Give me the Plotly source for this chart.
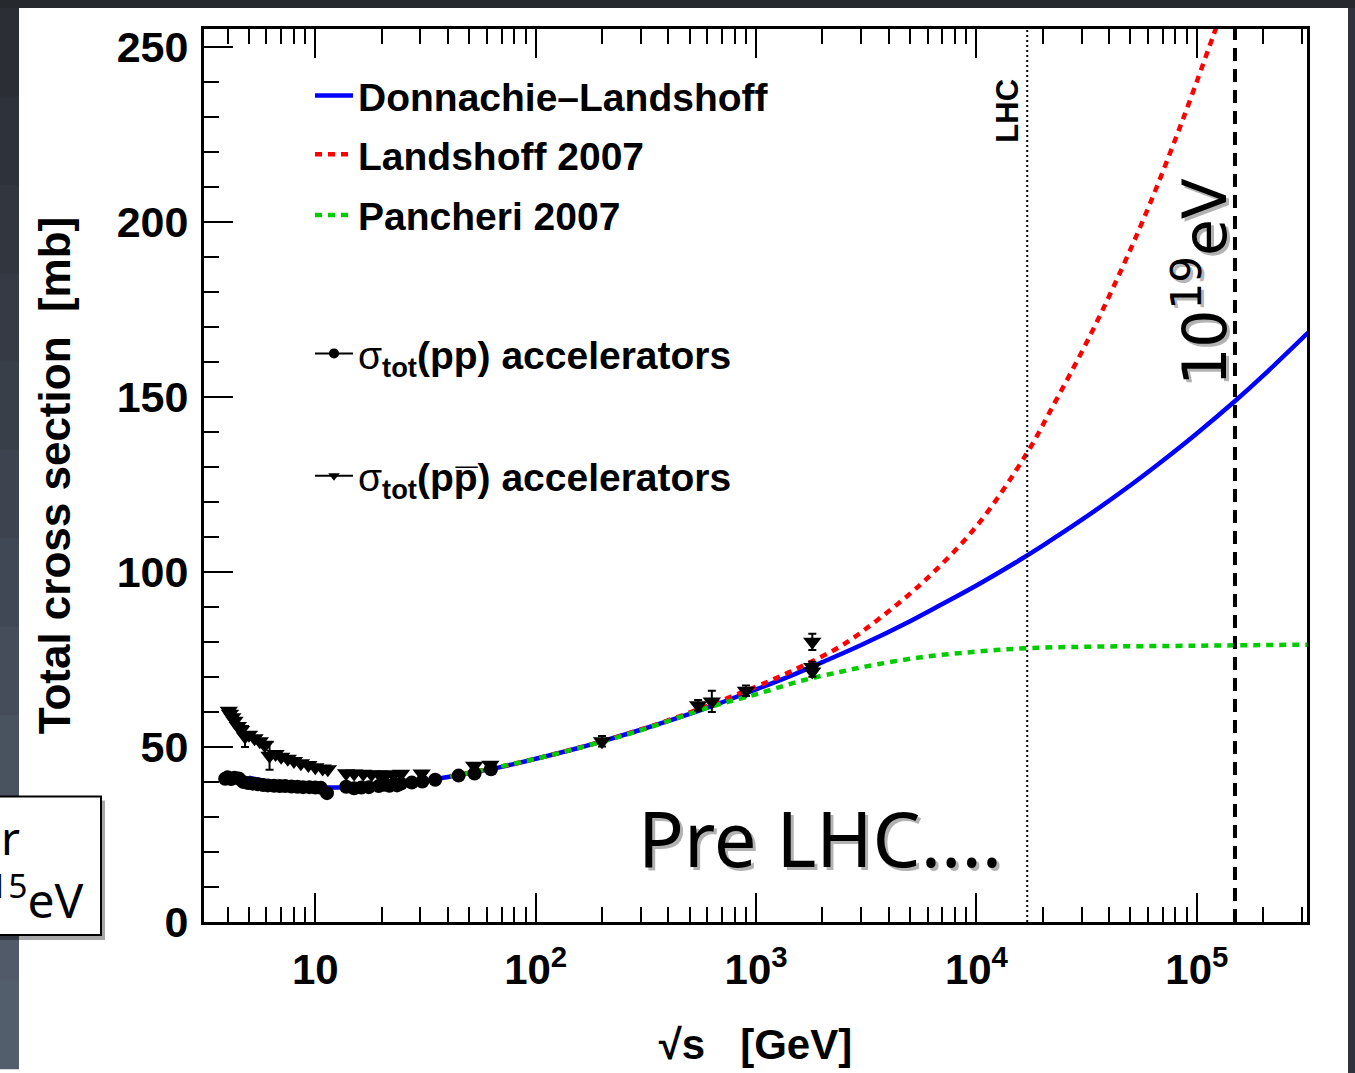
import plotly.graph_objects as go

# ---------------- data ----------------
# Donnachie-Landshoff fit
dl_sqrts = [5, 7, 10, 15, 20, 30, 50, 70, 100, 150, 200, 300, 500, 700, 1000, 1500,
            2000, 3000, 5000, 7000, 1e4, 1.5e4, 2e4, 3e4, 5e4, 7e4, 1e5, 1.5e5, 2e5, 3.2e5]
dl_sigma = [41.2, 39.4, 38.5, 38.5, 39.0, 40.2, 42.5, 44.3, 46.6, 49.4, 51.6, 54.9, 59.4, 62.7,
            66.4, 70.8, 74.2, 79.1, 85.9, 90.8, 96.1, 102.6, 107.5, 114.8, 124.7, 131.7,
            139.5, 148.9, 156.0, 168.3]

# Landshoff 2007
ls_sqrts = [41, 100, 316, 1000, 1585, 2400, 3162, 5623, 1e4, 1.7e4, 2.15e4, 3.27e4,
            4.61e4, 6.1e4, 8.6e4, 1.18e5, 1.26e5]
ls_sigma = [41.6, 46.6, 55.4, 67.2, 72.8, 78.6, 83.8, 96.6, 113.0, 134.0, 145.6, 167.3,
            187.1, 204.8, 228.8, 252.6, 257.6]

# Pancheri 2007
pa_sqrts = [41, 100, 200, 316, 617, 1000, 1585, 2400, 3162, 5623, 1e4, 1.7e4, 3.16e4, 1e5, 3.2e5]
pa_sigma = [41.5, 46.6, 51.5, 55.2, 61.4, 65.0, 68.8, 71.4, 73.0, 75.6, 77.2, 78.2, 78.6, 78.9, 79.2]

# sigma_tot(pp) accelerator data
pp_sqrts = [3.9, 4.0, 4.15, 4.3, 4.5, 4.7, 4.95, 5.2, 5.5, 5.8, 6.1, 6.5, 6.9, 7.3, 7.8, 8.3,
            8.8, 9.4, 10.0, 10.6, 11.3, 13.8, 15.0, 16.2, 17.5, 19.4, 20.5, 21.7, 23.5, 24.5,
            27.4, 30.6, 35.0, 44.7, 52.8, 62.7]
pp_sigma = [40.9, 41.3, 40.8, 41.2, 41.0, 40.0, 39.7, 39.5, 39.3, 39.1, 39.0, 38.9, 38.8, 38.8,
            38.7, 38.6, 38.5, 38.5, 38.4, 38.3, 36.8, 38.6, 38.2, 38.4, 38.5, 38.8, 39.2, 38.9,
            39.0, 39.5, 39.8, 40.1, 40.6, 41.8, 42.4, 43.6]
pp_err = [0.0] * len(pp_sqrts)

# sigma_tot(p pbar) accelerator data
pb_sqrts = [4.05, 4.1, 4.2, 4.3, 4.45, 4.6, 4.8, 5.0, 5.3, 5.6, 5.9, 6.2, 6.6, 7.0, 7.5, 8.0,
            8.6, 9.3, 10.0, 10.8, 11.4, 13.8, 15.0, 16.5, 18.0, 19.5, 21.0, 22.6, 24.5, 30.4,
            52.6, 62.3, 200, 546, 630, 900, 1800, 1800, 1800]
pb_sigma = [60.3, 59.5, 58.5, 57.5, 56.0, 54.8, 53.0, 53.5, 52.5, 51.6, 50.5, 47.5, 48.0, 47.2,
            46.6, 46.0, 45.3, 44.8, 44.2, 43.8, 43.6, 42.5, 42.4, 42.3, 42.2, 42.1, 42.2, 42.0,
            42.3, 42.4, 44.6, 44.9, 51.6, 61.9, 63.0, 66.0, 80.0, 72.8, 71.5]
pb_err = [0, 0, 0, 0, 0, 0, 3.0, 0, 0, 0, 0, 4.0, 0, 0, 0, 0, 0, 0, 0, 0, 0, 0, 0, 0, 0, 0,
          0, 0, 0, 0, 0, 0, 1.5, 1.5, 3.0, 1.5, 2.3, 1.5, 1.5]

# reference energies (vertical lines)
lhc_sqrts = 1.7e4
cr_sqrts = 1.49e5

# axes
x_tickvals = [10, 100, 1000, 10000, 100000]
x_ticktext = ["10", "10<sup>2</sup>", "10<sup>3</sup>", "10<sup>4</sup>", "10<sup>5</sup>"]
x_minor = [m * 10 ** e for e in range(0, 6) for m in range(2, 10)]
y_tickvals = [0, 50, 100, 150, 200, 250]
X_RANGE = [0.495, 5.5]
Y_TOP = 255

# ---------------- geometry helpers (decoration only) ----------------
W, H = 1355, 1073
ML, MR, MT, MB = 204, 48, 29, 147
PW, PH = W - ML - MR, H - MT - MB


def pxx(x):
    return (x - ML) / PW


def pxy(y):
    return (H - MB - y) / PH


BOLD = "Liberation Sans"

fig = go.Figure()

fig.add_trace(go.Scatter(x=dl_sqrts, y=dl_sigma, mode="lines", line=dict(color="#0000ff", width=4.5, shape="spline"),
                         name="<b>Donnachie\u2013Landshoff</b>", legend="legend"))
fig.add_trace(go.Scatter(x=ls_sqrts, y=ls_sigma, mode="lines",
                         line=dict(color="#ff0000", width=4.5, dash="7px,6px", shape="spline"),
                         name="<b>Landshoff 2007</b>", legend="legend2"))
fig.add_trace(go.Scatter(x=pa_sqrts, y=pa_sigma, mode="lines",
                         line=dict(color="#00cc00", width=4.5, dash="7px,6px", shape="spline"),
                         name="<b>Pancheri 2007</b>", legend="legend3"))

# vertical reference lines
fig.add_trace(go.Scatter(x=[lhc_sqrts, lhc_sqrts], y=[0, Y_TOP], mode="lines",
                         line=dict(color="black", width=2, dash="2px,3px"), showlegend=False))
fig.add_trace(go.Scatter(x=[cr_sqrts, cr_sqrts], y=[0, Y_TOP], mode="lines",
                         line=dict(color="black", width=4, dash="13px,8px"), showlegend=False))

# data points
fig.add_trace(go.Scatter(x=pp_sqrts, y=pp_sigma, mode="markers",
                         marker=dict(symbol="circle", size=14, color="black"),
                         error_y=dict(type="data", array=pp_err, color="black", thickness=2, width=4),
                         showlegend=False))
fig.add_trace(go.Scatter(x=pb_sqrts, y=pb_sigma, mode="markers",
                         marker=dict(symbol="triangle-down", size=16, color="black"),
                         error_y=dict(type="data", array=pb_err, color="black", thickness=2, width=4),
                         showlegend=False))

# legend entries for the data sets
fig.add_trace(go.Scatter(x=[None], y=[None], mode="lines+markers",
                         line=dict(color="black", width=2), marker=dict(symbol="circle", size=10, color="black"),
                         name="\u03c3<b><sub>tot</sub>(pp) accelerators</b>", legend="legend4"))
fig.add_trace(go.Scatter(x=[None], y=[None], mode="lines+markers",
                         line=dict(color="black", width=2), marker=dict(symbol="triangle-down", size=10, color="black"),
                         name="\u03c3<b><sub>tot</sub>(pp\u0305) accelerators</b>", legend="legend5"))

leg_common = dict(xanchor="left", yanchor="middle", bgcolor="rgba(0,0,0,0)", borderwidth=0,
                  font=dict(family=BOLD, size=39, color="black"), itemwidth=38)
legend_rows = {"legend": 96, "legend2": 155, "legend3": 216, "legend4": 355, "legend5": 478}
leg_layout = {k: dict(x=pxx(310), y=pxy(v), **leg_common) for k, v in legend_rows.items()}

# ---------------- decoration shapes (slide background) ----------------
shapes = []
shapes.append(dict(type="rect", xref="paper", yref="paper", x0=pxx(-5), x1=pxx(W + 5), y0=pxy(-5), y1=pxy(8),
                   fillcolor="#26292e", line=dict(width=0), layer="below"))
shapes.append(dict(type="rect", xref="paper", yref="paper", x0=pxx(1348), x1=pxx(W + 5), y0=pxy(H + 5), y1=pxy(8),
                   fillcolor="#30343a", line=dict(width=0), layer="below"))
strip_cols = ["#2b2f35", "#2e323a", "#31363f", "#353a44", "#393f49", "#3d444f", "#414855", "#454d5a",
              "#49525f", "#4d5664", "#505a68", "#535e6c"]
nb = len(strip_cols)
for i, c in enumerate(strip_cols):
    shapes.append(dict(type="rect", xref="paper", yref="paper", x0=pxx(-5), x1=pxx(19),
                       y0=pxy(8 + (H - 8) * (i + 1) / nb + 1), y1=pxy(8 + (H - 8) * i / nb),
                       fillcolor=c, line=dict(width=0), layer="below"))
# box at left edge with shadow
shapes.append(dict(type="rect", xref="paper", yref="paper", x0=pxx(-5), x1=pxx(105), y0=pxy(944), y1=pxy(804),
                   fillcolor="rgba(0,0,0,0.35)", line=dict(width=0), layer="below"))
shapes.append(dict(type="rect", xref="paper", yref="paper", x0=pxx(-5), x1=pxx(101), y0=pxy(939), y1=pxy(800),
                   fillcolor="white", line=dict(color="black", width=2), layer="below"))

annotations = []
# LHC label
annotations.append(dict(xref="paper", yref="paper", x=pxx(1008), y=pxy(111), xanchor="center", yanchor="middle",
                        text="<b>LHC</b>", textangle=-90,
                        showarrow=False, font=dict(family=BOLD, size=31, color="black")))
# 10^19 eV label with shadow
for dx, col in [(3, "rgba(0,0,0,0.3)"), (0, "black")]:
    annotations.append(dict(xref="paper", yref="paper", x=pxx(1201 + dx), y=pxy(283 + dx),
                            xanchor="center", yanchor="middle",
                            text="10<sup>19</sup>eV", textangle=-90, showarrow=False,
                            font=dict(family="DejaVu Sans", size=60, color=col)))
# Pre LHC.... with shadow
for dx, col in [(3, "rgba(0,0,0,0.3)"), (0, "black")]:
    annotations.append(dict(xref="paper", yref="paper", x=pxx(636 + dx), y=pxy(841 + dx), xanchor="left",
                            yanchor="middle", text="Pre LHC....", showarrow=False,
                            font=dict(family="Noto Sans", size=76, color=col)))
# clipped text inside the left box
annotations.append(dict(xref="paper", yref="paper", x=pxx(22), y=pxy(841), xanchor="right", yanchor="middle",
                        text="r", showarrow=False, font=dict(family="Noto Sans", size=46, color="black")))
annotations.append(dict(xref="paper", yref="paper", x=pxx(85), y=pxy(901), xanchor="right", yanchor="middle",
                        text="<sup>15</sup>eV", showarrow=False, font=dict(family="Noto Sans", size=48, color="black")))

fig.update_layout(
    width=W, height=H, autosize=False,
    margin=dict(l=ML, r=MR, t=MT, b=MB, pad=0),
    paper_bgcolor="white", plot_bgcolor="white",
    shapes=shapes, annotations=annotations,
    xaxis=dict(type="log", range=X_RANGE, showgrid=False, zeroline=False,
               showline=True, linewidth=3, linecolor="black", mirror="ticks",
               ticks="inside", ticklen=29, tickwidth=2, tickcolor="black",
               tickmode="array", tickvals=x_tickvals, ticktext=x_ticktext, ticklabelstandoff=9,
               tickfont=dict(family=BOLD, size=42, color="black", weight="bold"),
               minor=dict(tickmode="array", tickvals=x_minor, ticks="inside", ticklen=15, tickwidth=2,
                          tickcolor="black", showgrid=False),
               title=dict(text="\u221as   [GeV]", standoff=38,
                          font=dict(family=BOLD, size=42, color="black", weight="bold"))),
    yaxis=dict(range=[0, Y_TOP], showgrid=False, zeroline=False,
               showline=True, linewidth=3, linecolor="black", mirror=True,
               ticks="inside", ticklen=29, tickwidth=2, tickcolor="black",
               tickmode="array", tickvals=y_tickvals, ticklabelstandoff=4,
               tickfont=dict(family=BOLD, size=43, color="black", weight="bold"),
               minor=dict(dtick=10, ticks="inside", ticklen=15, tickwidth=2, tickcolor="black", showgrid=False),
               title=dict(text="Total cross section  [mb]", standoff=33,
                          font=dict(family=BOLD, size=44, color="black", weight="bold"))),
    **leg_layout,
)

fig.write_html("out.html")
